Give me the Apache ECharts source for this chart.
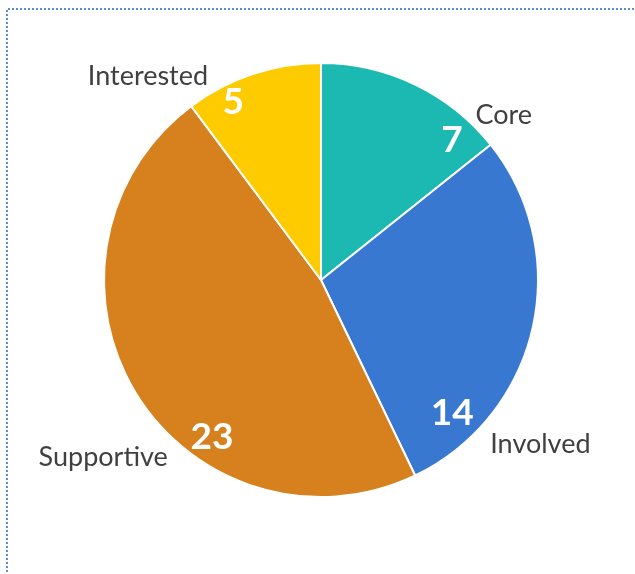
<!DOCTYPE html>
<html>
<head>
<meta charset="utf-8">
<script src="https://cdn.jsdelivr.net/npm/echarts@6/dist/echarts.min.js"></script>
<style>
  html, body { margin: 0; padding: 0; background: #fff; }
  #chart { width: 635px; height: 574px; }
</style>
</head>
<body>
<div id="chart"></div>
<script>
// data
var categories = ['Core', 'Involved', 'Supportive', 'Interested'];
var values = [7, 14, 23, 5];
var colors = ['#1cb8b2', '#3878d0', '#d6801e', '#fecb00'];

// where the labels sit: angle clockwise from top (deg), distance from centre (px)
var nameLabelPos = [[48, 246], [126.8, 274], [230.8, 281], [319.6, 267]];
var valueLabelPos = [[43, 192], [135.4, 187], [214.8, 191], [333.7, 198]];

var cx = 321, cy = 280, R = 217;

function polar(p) {
	var a = p[0] * Math.PI / 180;
	return { x: cx + p[1] * Math.sin(a), y: cy - p[1] * Math.cos(a) };
}

var pieData = [];
for (var i = 0; i < categories.length; i++) {
	pieData.push({ name: categories[i], value: values[i], itemStyle: { color: colors[i] } });
}

var chart = echarts.init(document.getElementById('chart'));
var option = {
	animation: false,
	graphic: [
		{
			type: 'polyline',
			shape: { points: [[7, 600], [7, 9], [650, 9]] },
			style: { stroke: '#5b8fc7', lineWidth: 2, lineDash: [2, 2], fill: null },
			silent: true
		}
	],
	series: [
		{
			// the slices + category names
			type: 'pie',
			center: [cx, cy],
			radius: R,
			startAngle: 90,
			clockwise: true,
			data: pieData,
			itemStyle: { borderColor: '#ffffff', borderWidth: 2 },
			label: {
				show: true,
				position: 'outside',
				alignTo: 'none',
				overflow: 'none',
				formatter: '{b}',
				fontFamily: 'Lato',
				fontSize: 27,
				color: '#404040'
			},
			labelLine: { show: false },
			labelLayout: function (params) {
				var p = polar(nameLabelPos[params.dataIndex]);
				return { x: p.x, y: p.y, align: 'center', verticalAlign: 'middle' };
			},
			emphasis: { disabled: true }
		},
		{
			// see-through copy only for the white value labels
			type: 'pie',
			center: [cx, cy],
			radius: R,
			startAngle: 90,
			clockwise: true,
			silent: true,
			data: values.map(function (v, i) {
				return { name: categories[i], value: v };
			}),
			itemStyle: { color: 'rgba(0,0,0,0)', borderWidth: 0 },
			label: {
				show: true,
				position: 'inside',
				overflow: 'none',
				formatter: '{c}',
				fontFamily: 'Lato',
				fontWeight: 'bold',
				fontSize: 37,
				color: '#ffffff'
			},
			labelLine: { show: false },
			labelLayout: function (params) {
				var p = polar(valueLabelPos[params.dataIndex]);
				return { x: p.x, y: p.y, align: 'center', verticalAlign: 'middle' };
			},
			emphasis: { disabled: true }
		}
	]
};
chart.setOption(option);
</script>
</body>
</html>
